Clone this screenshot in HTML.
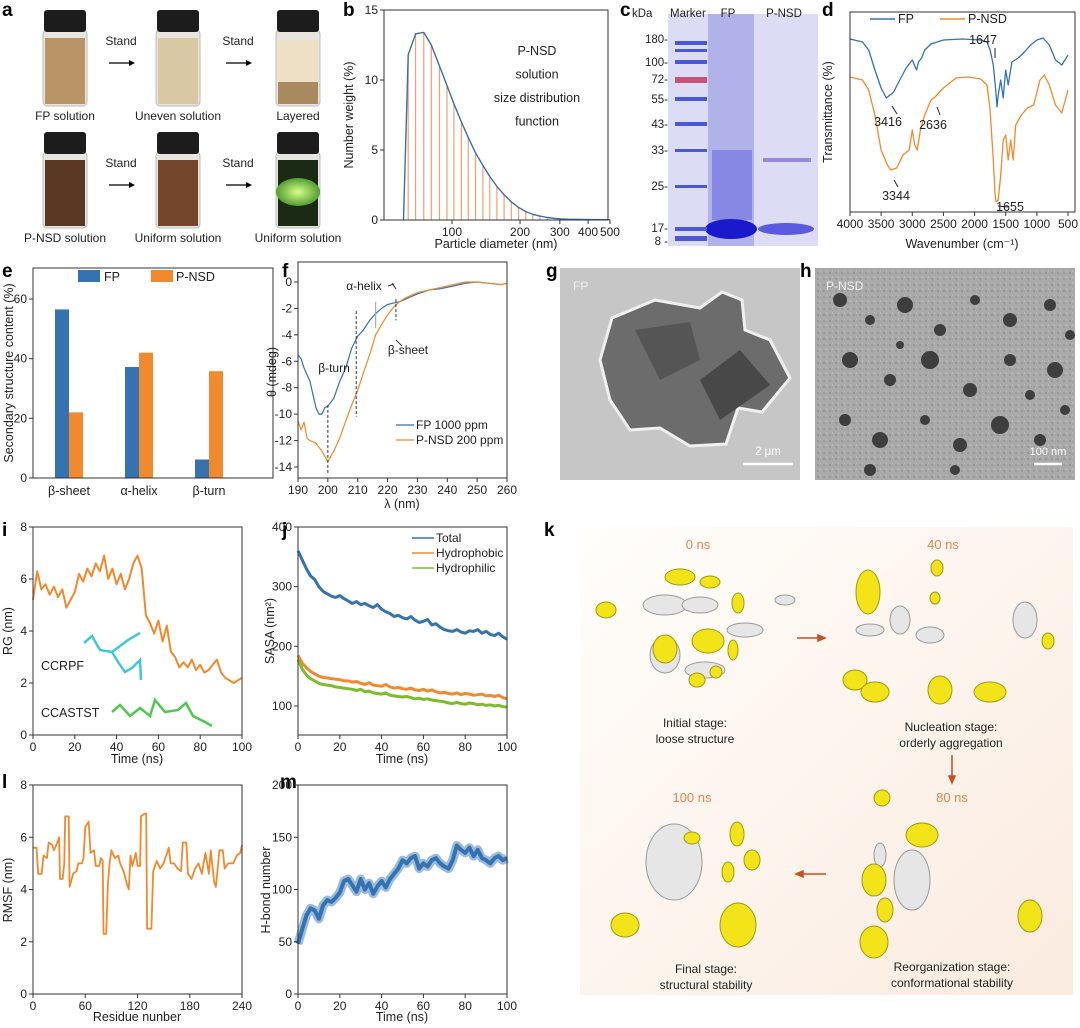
<!DOCTYPE html>
<html><head><meta charset="utf-8"><style>
html,body{margin:0;padding:0;background:#fff}
svg{display:block;font-family:"Liberation Sans",sans-serif}
text{fill:#222}
.t{font-size:11.5px}
.pl{font-size:19px;font-weight:bold;fill:#000}
</style></head><body>
<svg id="fig" width="1080" height="1028" viewBox="0 0 1080 1028">
<defs>
<linearGradient id="kbg" x1="0" y1="0" x2="1" y2="1"><stop offset="0" stop-color="#fffefb"/><stop offset="1" stop-color="#fbebe0"/></linearGradient>
<radialGradient id="glow" cx="0.5" cy="0.5" r="0.6"><stop offset="0" stop-color="#d8ff8a"/><stop offset="1" stop-color="#3a8a20"/></radialGradient>
<pattern id="noise" width="6" height="6" patternUnits="userSpaceOnUse"><rect width="6" height="6" fill="#a9a9a9"/><rect x="1" y="2" width="2" height="2" fill="#999"/><rect x="4" y="0" width="1" height="2" fill="#b8b8b8"/></pattern>
</defs>

<g>
<text class="pl" x="2" y="16">a</text><text class="pl" x="343" y="16">b</text><text class="pl" x="620" y="16">c</text><text class="pl" x="822" y="16">d</text>
<text class="pl" x="2" y="277">e</text><text class="pl" x="282" y="277">f</text><text class="pl" x="546" y="277">g</text><text class="pl" x="800" y="277">h</text>
<text class="pl" x="2" y="536">i</text><text class="pl" x="282" y="536">j</text><text class="pl" x="544" y="536">k</text>
<text class="pl" x="2" y="788">l</text><text class="pl" x="280" y="788">m</text>
</g>

<g id="pa"></g>

<g>
<rect x="668" y="14" width="150" height="232" fill="#dcdcf4"/>
<rect x="708" y="14" width="46" height="232" fill="#a8a8e8" opacity="0.8"/>
<rect x="712" y="150" width="40" height="70" fill="#6a6ae0" opacity="0.6"/>
<ellipse cx="731" cy="229" rx="26" ry="10" fill="#1a1acc"/>
<ellipse cx="786" cy="229" rx="28" ry="6" fill="#5a5ae0"/>
<rect x="763" y="158" width="48" height="4" fill="#9a88dc"/>
<g fill="#4a58d8">
<rect x="675" y="41" width="32" height="4"/><rect x="675" y="49" width="32" height="3"/><rect x="675" y="60" width="32" height="4"/>
<rect x="675" y="97" width="32" height="4"/><rect x="675" y="122" width="32" height="4"/><rect x="675" y="149" width="32" height="3"/>
<rect x="675" y="185" width="32" height="3"/><rect x="675" y="227" width="32" height="4"/><rect x="675" y="236" width="32" height="5"/>
</g>
<rect x="675" y="77" width="32" height="6" fill="#c8507a"/>
<g class="t" text-anchor="end" font-size="11.5">
<text x="668" y="43">180-</text><text x="668" y="66">100-</text><text x="668" y="83">72-</text><text x="668" y="103">55-</text>
<text x="668" y="128">43-</text><text x="668" y="154">33-</text><text x="668" y="190">25-</text><text x="668" y="232">17-</text><text x="668" y="245">8 -</text>
</g>
<g class="t" font-size="12"><text x="632" y="17">kDa</text><text x="670" y="17">Marker</text><text x="728" y="17" text-anchor="middle">FP</text><text x="784" y="17" text-anchor="middle">P-NSD</text></g>
</g>

<g>
<rect x="560" y="268" width="240" height="212" fill="#c6c6c6"/>
<polygon points="612,318 655,300 700,308 722,292 742,300 745,330 770,340 790,378 762,412 738,408 726,444 690,446 660,428 630,430 610,400 600,360" fill="#6c6c6c" stroke="#f0f0f0" stroke-width="3"/>
<polygon points="635,330 690,322 700,360 660,380" fill="#555"/>
<polygon points="700,380 740,350 770,385 720,420" fill="#484848"/>
<text x="573" y="290" font-size="12" style="fill:#eee">FP</text>
<line x1="743" y1="464" x2="793" y2="464" stroke="#fff" stroke-width="2.5"/>
<text x="768" y="455" font-size="11.5" text-anchor="middle" style="fill:#fff">2 μm</text>
</g>

<g id="ph">
<rect x="815" y="268" width="260" height="212" fill="url(#noise)"/>
<text x="826" y="290" font-size="12" style="fill:#eee">P-NSD</text>
<line x1="1034" y1="464" x2="1062" y2="464" stroke="#fff" stroke-width="2.5"/>
<text x="1048" y="455" font-size="11" text-anchor="middle" style="fill:#fff">100 nm</text>
</g>

<g id="pk">
<rect x="580" y="527" width="493" height="468" fill="url(#kbg)"/>
<g font-size="13" text-anchor="middle">
<text x="698" y="549" style="fill:#e88448">0 ns</text><text x="943" y="549" style="fill:#e88448">40 ns</text>
<text x="692" y="802" style="fill:#e88448">100 ns</text><text x="952" y="802" style="fill:#e88448">80 ns</text></g>
<g font-size="12" text-anchor="middle">
<text x="695" y="727">Initial stage:</text><text x="695" y="743">loose structure</text>
<text x="951" y="731">Nucleation stage:</text><text x="951" y="747">orderly aggregation</text>
<text x="706" y="973">Final stage:</text><text x="706" y="989">structural stability</text>
<text x="952" y="971">Reorganization stage:</text><text x="952" y="987">conformational stability</text></g>
<g stroke="#c8501e" stroke-width="1.5" fill="#c8501e">
<line x1="797" y1="638" x2="821" y2="638"/><polygon points="825,638 818,635 818,641"/>
<line x1="952" y1="755" x2="952" y2="779"/><polygon points="952,783 949,776 955,776"/>
<line x1="826" y1="874" x2="800" y2="874"/><polygon points="796,874 803,871 803,877"/></g>
</g>

<g id="charts"></g>
</svg>

<script>
const NS="http://www.w3.org/2000/svg";
const C=document.getElementById('charts');
const BLUE="#3572b0",ORANGE="#f08a2c",GREEN="#7cbd2a";
function el(tag,attrs,parent){const e=document.createElementNS(NS,tag);for(const k in attrs)e.setAttribute(k,attrs[k]);(parent||C).appendChild(e);return e;}
function txt(x,y,s,attrs,parent){const t=el('text',Object.assign({x:x,y:y,'font-size':'11.5'},attrs||{}),parent);t.textContent=s;return t;}
function lin(d0,d1,r0,r1){return v=>r0+(v-d0)*(r1-r0)/(d1-d0);}

const bDiam=[61,64,69,75,81,88,95,102,110,118,127,137,147,158,170,183,197,212,228,245,264,284,305,328,353,380,409,440,474,500];
const bWeight=[0,11.8,13.3,13.4,12.5,11,9.6,8.3,7,5.9,4.8,3.9,3.1,2.4,1.8,1.3,0.9,0.6,0.4,0.28,0.18,0.12,0.08,0.06,0.05,0.04,0.03,0.03,0.02,0.02];
const bYTicks=[0,5,10,15];
const bXTicks=[100,200,300,400,500];
const dFPwn=[4000,3800,3700,3600,3500,3416,3300,3200,3100,3000,2960,2930,2900,2850,2800,2700,2500,2200,1900,1800,1750,1700,1660,1640,1620,1580,1540,1500,1460,1400,1300,1200,1100,1000,900,800,700,600,500];
const dFPt=[86.5,85,81,71,62,57,60,66,72,76,73,71,75,77,81,84,86,86.5,86,85,81,73.5,61,52.5,58.5,66,57,71,63.5,75,77,80,83.5,86,87,83.5,76,73.5,78.5];
const dPwn=[4000,3800,3700,3600,3500,3400,3344,3250,3150,3050,3000,2960,2920,2870,2800,2700,2636,2500,2300,2100,1900,1800,1750,1700,1670,1655,1620,1580,1540,1500,1460,1420,1380,1340,1250,1150,1050,950,880,800,700,600,500];
const dPt=[67.5,66,61,48.5,31,23.5,21,22,28.5,31,41,33.5,31,41,48.5,56,57.5,62,67,67.5,66.5,63.5,51,26,8.5,5,6,18.5,36,38.5,26,36,26,43.5,48.5,52,53.5,66,68.5,63.5,53.5,49.5,61];
const dXTicks=[4000,3500,3000,2500,2000,1500,1000,500];
const eCats=["β-sheet","α-helix","β-turn"];
const eFP=[56.5,37.2,6.2];
const ePNSD=[22,42,35.8];
const eYTicks=[0,20,40,60];
const fFPnm=[190,191,192,194,195,196,197,198,199,200,202,204,206,208,210,212,214,216,218,220,222,224,226,228,230,234,238,242,246,250,254,258,260];
const fFP=[-5.5,-5.8,-6.5,-7.5,-8.5,-9.5,-10,-10,-9.5,-9.4,-8.8,-7.5,-6.5,-5,-4.1,-3.6,-2.9,-2.4,-2.0,-1.7,-1.6,-1.5,-1.3,-1.1,-0.9,-0.6,-0.5,-0.3,-0.1,0,-0.1,-0.2,-0.1];
const fPnm=[190,191,192,193,194,196,198,200,202,204,206,208,210,212,214,216,218,220,222,224,226,228,230,234,238,242,246,250,254,258,260];
const fP=[-10.5,-11.2,-10.6,-11.8,-12,-12.2,-12.8,-13.6,-12.8,-11.8,-10.5,-9.3,-8.2,-6.8,-5.5,-4,-3.2,-2.5,-1.9,-1.5,-1.2,-1.0,-0.8,-0.6,-0.4,-0.2,0,0,-0.1,-0.2,-0.1];
const fXTicks=[190,200,210,220,230,240,250,260];
const fYTicks=[0,-2,-4,-6,-8,-10,-12,-14];
const iTime=[0,2,4,6,8,10,12,14,16,18,20,22,24,26,28,30,32,34,36,38,40,42,44,46,48,50,52,54,56,58,60,62,64,66,68,70,72,74,76,78,80,82,84,86,88,90,92,94,96,98,100];
const iRG=[5.2,6.3,5.6,5.8,5.4,5.7,5.3,5.6,4.9,5.2,5.5,6.2,5.9,6.4,6.1,6.6,6.3,6.9,6.0,6.4,5.8,6.2,5.6,6.0,6.6,6.9,6.4,4.6,4.3,3.9,4.4,3.6,4.2,3.2,3.0,2.6,2.8,2.6,2.9,2.5,2.7,2.4,2.5,2.7,2.9,2.4,2.2,2.1,2.0,2.1,2.2];
const jTotal=[360,345,330,318,312,300,292,288,284,282,285,280,276,272,275,270,272,268,265,270,262,258,255,250,252,248,246,250,244,240,242,245,236,238,232,228,226,225,228,224,222,226,225,228,222,225,220,218,222,216,212];
const jPhobic=[185,172,164,158,154,150,148,147,146,145,144,142,142,140,141,138,136,139,135,134,133,136,132,130,131,129,128,130,127,126,128,125,127,124,122,123,121,120,122,119,121,120,118,119,120,117,118,116,118,114,112];
const jPhilic=[178,162,152,146,142,138,136,135,134,132,131,130,129,128,126,128,124,125,122,121,120,122,118,117,116,115,116,114,112,113,111,112,110,109,108,107,105,104,106,104,103,105,104,102,103,101,102,100,101,99,98];
const lRes=[0,4,6,10,12,16,18,22,24,28,30,31,34,36,37,41,42,46,50,52,56,58,60,64,66,70,72,76,78,80,81,84,86,88,90,94,98,100,104,108,110,112,114,118,120,123,124,128,130,131,136,138,142,146,150,156,158,162,166,170,172,176,178,182,186,190,194,198,202,204,208,210,214,218,220,224,230,234,238,240];
const lRMSF=[5.6,5.6,4.6,4.6,5.3,5.2,5.8,5.7,5.5,5.8,6.0,4.4,4.4,5.0,6.8,6.8,4.1,4.6,4.7,5.0,5.0,5.2,6.4,6.6,5.4,5.5,4.9,4.9,5.2,5.1,2.3,2.3,4.2,5.0,5.5,5.2,5.3,5.0,4.7,4.2,4.0,5.3,4.9,5.4,4.9,4.9,6.8,6.9,6.9,2.5,2.5,4.7,5.1,4.8,5.0,5.6,5.0,5.0,4.8,4.7,5.8,5.8,4.6,4.4,4.8,5.0,4.6,5.4,4.6,5.5,4.3,4.1,5.5,5.5,4.8,5.0,5.0,5.3,5.4,5.7];
const mHbond=[48,62,75,82,80,72,85,90,88,92,97,108,110,104,98,110,100,106,96,103,108,102,110,115,120,128,125,130,132,120,125,122,128,130,125,122,120,128,142,138,135,140,132,138,130,128,125,130,132,128,130];

function frame(x0,y0,x1,y1,name){
  const r=el('rect',{x:x0,y:y0,width:x1-x0,height:y1-y0,fill:'none',stroke:'#333','stroke-width':1});
  
  
}
function xTicks(vals,sx,y,name,labels){
  const g=el('g',{});
  
  
  vals.forEach((v,i)=>{el('line',{x1:sx(v),x2:sx(v),y1:y,y2:y+4,stroke:'#333'},g);txt(sx(v),y+16,labels?labels[i]:String(v),{'text-anchor':'middle','font-size':'12'},g);});
}
function yTicks(vals,sy,x,name){
  const g=el('g',{});
  
  
  vals.forEach(v=>{el('line',{x1:x-4,x2:x,y1:sy(v),y2:sy(v),stroke:'#333'},g);txt(x-6,sy(v)+4,String(v),{'text-anchor':'end','font-size':'12'},g);});
}
function path(xs,ys,sx,sy,color,w,name){
  let d='';xs.forEach((x,i)=>{d+=(i?'L':'M')+sx(x).toFixed(1)+','+sy(ys[i]).toFixed(1);});
  const p=el('path',{d:d,fill:'none',stroke:color,'stroke-width':w,'stroke-linejoin':'round'});
  
  
  return p;
}
function title(x,y,s,rot,name){
  const t=txt(x,y,s,{'text-anchor':'middle','font-size':'12.5',transform:rot?`rotate(-90 ${x} ${y})`:''});
  
  
}

(function(){
  const sx=d=>452+226*Math.log10(d/100), sy=lin(0,15,220,10);
  bDiam.forEach((d,i)=>{if(i===0)return;const l=el('line',{x1:sx(d),x2:sx(d),y1:sy(0),y2:sy(bWeight[i]),stroke:'#f2a070','stroke-width':1.2});
    
    });
  path(bDiam,bWeight,sx,sy,'#3a6fa8',1.4,'size-distribution-curve');
  frame(384,10,608,220,'plot-b-frame');
  yTicks(bYTicks,sy,384,'b-y-ticks');
  xTicks(bXTicks,sx,220,'b-x-ticks');
  title(496,248,'Particle diameter (nm)',false,'b-x-axis-title');
  title(353,115,'Number weight (%)',true,'b-y-axis-title');
  ['P-NSD','solution','size distribution','function'].forEach((s,i)=>txt(537,55+i*23.5,s,{'text-anchor':'middle','font-size':'12.5'}));
})();

(function(){
  const sx=lin(4000,500,850,1068), sy=lin(100,0,12,212);
  path(dFPwn,dFPt,sx,sy,BLUE,1.3,'ftir-fp-line');
  path(dPwn,dPt,sx,sy,ORANGE,1.3,'ftir-pnsd-line');
  frame(850,12,1075,212,'plot-d-frame');
  xTicks(dXTicks,sx,212,'d-x-ticks');
  title(962,248,'Wavenumber (cm⁻¹)',false,'d-x-axis-title');
  title(832,112,'Transmittance (%)',true,'d-y-axis-title');
  el('line',{x1:870,x2:895,y1:19,y2:19,stroke:BLUE,'stroke-width':1.5});txt(898,23,'FP',{'font-size':'12.5'});
  el('line',{x1:940,x2:965,y1:19,y2:19,stroke:ORANGE,'stroke-width':1.5});txt(968,23,'P-NSD',{'font-size':'12.5'});
  [['1647',983,44],['3416',888,126],['2636',933,129],['3344',896,200],['1655',1010,211]].forEach(a=>txt(a[1],a[2],a[0],{'font-size':'12.5','text-anchor':'middle'}));
  [[995,48,995,58],[892,106,897,114],[937,107,940,115],[894,180,898,187],[998,206,1008,207]].forEach(a=>el('line',{x1:a[0],y1:a[1],x2:a[2],y2:a[3],stroke:'#222','stroke-width':1}));
})();

(function(){
  const sy=lin(0,60,478,299), cx=i=>69+i*70, bw=14;
  eCats.forEach((c,i)=>{
    const a=el('rect',{x:cx(i)-bw,y:sy(eFP[i]),width:bw,height:sy(0)-sy(eFP[i]),fill:BLUE});
    
    
    const b=el('rect',{x:cx(i),y:sy(ePNSD[i]),width:bw,height:sy(0)-sy(ePNSD[i]),fill:ORANGE});
    
    
    txt(cx(i),495,c,{'text-anchor':'middle','font-size':'12.5'});
  });
  frame(33,268,273,478,'plot-e-frame');
  yTicks(eYTicks,sy,33,'e-y-ticks');
  title(13,373,'Secondary structure content (%)',true,'e-y-axis-title');
  el('rect',{x:78,y:270,width:22,height:12,fill:BLUE});txt(104,281,'FP',{'font-size':'12.5'});
  el('rect',{x:151,y:270,width:22,height:12,fill:ORANGE});txt(176,281,'P-NSD',{'font-size':'12.5'});
})();

(function(){
  const sx=lin(190,260,298,507), sy=lin(0,-14,282,467);
  path(fFPnm,fFP,sx,sy,BLUE,1.2,'cd-fp-line');
  path(fPnm,fP,sx,sy,ORANGE,1.2,'cd-pnsd-line');
  frame(298,262,507,478,'plot-f-frame');
  xTicks(fXTicks,sx,478,'f-x-ticks');
  yTicks(fYTicks,sy,298,'f-y-ticks');
  title(402,508,'λ (nm)',false,'f-x-axis-title');
  title(276,372,'θ (mdeg)',true,'f-y-axis-title');
  [[200,-9.3,-14.5],[209.5,-2.2,-10.2],[222.8,-1.3,-2.9]].forEach(v=>el('line',{x1:sx(v[0]),x2:sx(v[0]),y1:sy(v[1]),y2:sy(v[2]),stroke:'#333','stroke-dasharray':'3,2'}));
  el('line',{x1:sx(216),x2:sx(216),y1:sy(-1.5),y2:sy(-3.5),stroke:'#aab','stroke-width':1.2});
  txt(334,372,'β-turn',{'text-anchor':'middle','font-size':'12'});
  txt(364,290,'α-helix',{'text-anchor':'middle','font-size':'12'});
  txt(408,354,'β-sheet',{'text-anchor':'middle','font-size':'12'});
  el('line',{x1:392,y1:283,x2:396,y2:289,stroke:'#333'});el('line',{x1:388,y1:286,x2:394,y2:284,stroke:'#333'});
  el('line',{x1:396,y1:340,x2:402,y2:346,stroke:'#333'});
  el('line',{x1:396,x2:414,y1:425,y2:425,stroke:BLUE,'stroke-width':1.3});txt(416,429,'FP    1000 ppm',{'font-size':'12'});
  el('line',{x1:396,x2:414,y1:440,y2:440,stroke:ORANGE,'stroke-width':1.3});txt(416,444,'P-NSD 200 ppm',{'font-size':'12'});
})();

(function(){
  const sx=lin(0,100,33,242), sy=lin(0,8,735,527);
  path(iTime,iRG,sx,sy,ORANGE,2,'rg-line');
  frame(33,527,242,735,'plot-i-frame');
  xTicks([0,20,40,60,80,100],sx,735,'i-x-ticks');
  yTicks([0,2,4,6,8],sy,33,'i-y-ticks');
  title(137,763,'Time (ns)',false,'i-x-axis-title');
  title(12,631,'RG (nm)',true,'i-y-axis-title');
  txt(41,670,'CCRPF',{'font-size':'12.5'});txt(41,717,'CCASTST',{'font-size':'12.5'});
  el('path',{d:'M84,643 L92,636 L100,650 L112,652 L118,662 L125,672 L132,668 L140,660 L141,680 M112,652 L128,640 L140,633',fill:'none',stroke:'#40c8d8','stroke-width':2.5});
  el('path',{d:'M112,712 L120,705 L130,716 L140,708 L150,716 L155,700 L165,712 L178,710 L186,703 L193,716 L205,722 L212,726',fill:'none',stroke:'#50c850','stroke-width':2.5});
})();

(function(){
  const sx=lin(0,100,298,507), sy=lin(100,400,706,527);
  path(iTime,jTotal,sx,sy,BLUE,3,'sasa-total-line');
  path(iTime,jPhobic,sx,sy,ORANGE,3,'sasa-hydrophobic-line');
  path(iTime,jPhilic,sx,sy,GREEN,3,'sasa-hydrophilic-line');
  frame(298,527,507,735,'plot-j-frame');
  xTicks([0,20,40,60,80,100],sx,735,'j-x-ticks');
  yTicks([100,200,300,400],sy,298,'j-y-ticks');
  title(402,763,'Time (ns)',false,'j-x-axis-title');
  title(274,631,'SASA (nm²)',true,'j-y-axis-title');
  [['Total',BLUE,538],['Hydrophobic',ORANGE,553],['Hydrophilic',GREEN,568]].forEach(a=>{el('line',{x1:412,x2:434,y1:a[2],y2:a[2],stroke:a[1],'stroke-width':1.5});txt(436,a[2]+4,a[0],{'font-size':'12'});});
})();

(function(){
  const sx=lin(0,240,33,242), sy=lin(0,8,994,785);
  path(lRes,lRMSF,sx,sy,ORANGE,1.8,'rmsf-line');
  frame(33,785,242,994,'plot-l-frame');
  xTicks([0,60,120,180,240],sx,994,'l-x-ticks');
  yTicks([0,2,4,6,8],sy,33,'l-y-ticks');
  title(137,1021,'Residue nunber',false,'l-x-axis-title');
  title(12,890,'RMSF (nm)',true,'l-y-axis-title');
})();

(function(){
  const sx=lin(0,100,298,507), sy=lin(0,200,994,785);
  path(iTime,mHbond,sx,sy,'#9bbbe0',9,'hbond-band');
  path(iTime,mHbond,sx,sy,BLUE,4,'hbond-line');
  frame(298,785,507,994,'plot-m-frame');
  xTicks([0,20,40,60,80,100],sx,994,'m-x-ticks');
  yTicks([0,50,100,150,200],sy,298,'m-y-ticks');
  title(402,1021,'Time (ns)',false,'m-x-axis-title');
  title(270,890,'H-bond number',true,'m-y-axis-title');
})();

(function(){
  const g=document.getElementById('pa');
  const vials=[[65,10,'#b89466'],[178,10,'#d9c8a4'],[298,10,'layer1'],[65,132,'#5a3824'],[178,132,'#74462c'],[298,132,'glow']];
  vials.forEach(v=>{
    const [cx,y,c]=v;
    el('rect',{x:cx-22,y:y+20,width:44,height:76,rx:4,fill:'#e8e4de',stroke:'#bbb'},g);
    if(c==='layer1'){el('rect',{x:cx-20,y:y+30,width:40,height:42,fill:'#ede0c4'},g);el('rect',{x:cx-20,y:y+72,width:40,height:22,fill:'#a88a5e'},g);}
    else if(c==='glow'){el('rect',{x:cx-20,y:y+28,width:40,height:66,fill:'#1a2a14'},g);el('ellipse',{cx:cx,cy:y+60,rx:22,ry:14,fill:'url(#glow)'},g);}
    else el('rect',{x:cx-20,y:y+28,width:40,height:66,fill:c},g);
    el('rect',{x:cx-21,y:y,width:42,height:22,rx:3,fill:'#1c1c1c'},g);
  });
  [['FP solution',65,120],['Uneven solution',178,120],['Layered',298,120],['P-NSD solution',65,242],['Uniform solution',178,242],['Uniform solution',298,242]].forEach(a=>txt(a[1],a[2],a[0],{'text-anchor':'middle','font-size':'12'},g));
  [[121,45],[238,45],[121,167],[238,167]].forEach(a=>{txt(a[0],a[1],'Stand',{'text-anchor':'middle','font-size':'12'},g);
    el('line',{x1:a[0]-12,x2:a[0]+10,y1:a[1]+18,y2:a[1]+18,stroke:'#000','stroke-width':1.3},g);
    el('polygon',{points:`${a[0]+14},${a[1]+18} ${a[0]+8},${a[1]+15} ${a[0]+8},${a[1]+21}`,fill:'#000'},g);});
})();

(function(){
  const g=document.getElementById('ph');
  const dots=[[840,300,7],[870,320,5],[905,305,8],[940,330,6],[975,300,5],[1010,320,7],[1050,305,6],[850,360,8],[890,380,6],[930,360,9],[970,390,7],[1010,360,6],[1055,370,8],[845,420,6],[880,440,8],[925,420,5],[960,445,7],[1000,425,9],[1040,440,6],[1065,410,5],[900,345,4],[1030,395,5],[955,470,5],[870,470,6],[1070,335,5]];
  dots.forEach(d=>el('circle',{cx:d[0],cy:d[1],r:d[2],fill:'#3e3e3e'},g));
})();

(function(){
  const g=document.getElementById('pk');
  const W=[[665,605,22,10],[700,605,18,8],[665,655,15,18],[705,670,20,8],[785,600,10,5],[745,630,18,7],[870,630,14,6],[900,620,10,14],[930,635,14,8],[1025,620,12,18],[674,862,28,38],[880,855,6,12],[912,880,18,30]];
  const Y=[[606,610,10,8],[680,577,15,8],[710,582,10,6],[665,649,12,14],[708,641,16,12],[738,603,6,10],[733,650,5,10],[697,680,8,7],[716,672,6,6],[868,592,12,22],[937,568,6,8],[935,598,5,6],[855,680,12,10],[875,692,14,10],[940,690,12,14],[990,692,16,10],[1048,641,6,8],[625,925,14,12],[692,838,8,6],[737,834,7,12],[752,860,8,10],[728,872,6,10],[738,925,18,22],[882,798,8,8],[922,835,16,12],[874,880,12,16],[885,910,8,12],[874,942,14,16],[1030,916,12,16]];
  W.forEach(b=>el('ellipse',{cx:b[0],cy:b[1],rx:b[2],ry:b[3],fill:'#e6e6e6',stroke:'#999','stroke-width':1},g));
  Y.forEach(b=>el('ellipse',{cx:b[0],cy:b[1],rx:b[2],ry:b[3],fill:'#f2e418',stroke:'#a09a10','stroke-width':1},g));
})();
</script>
</body></html>
